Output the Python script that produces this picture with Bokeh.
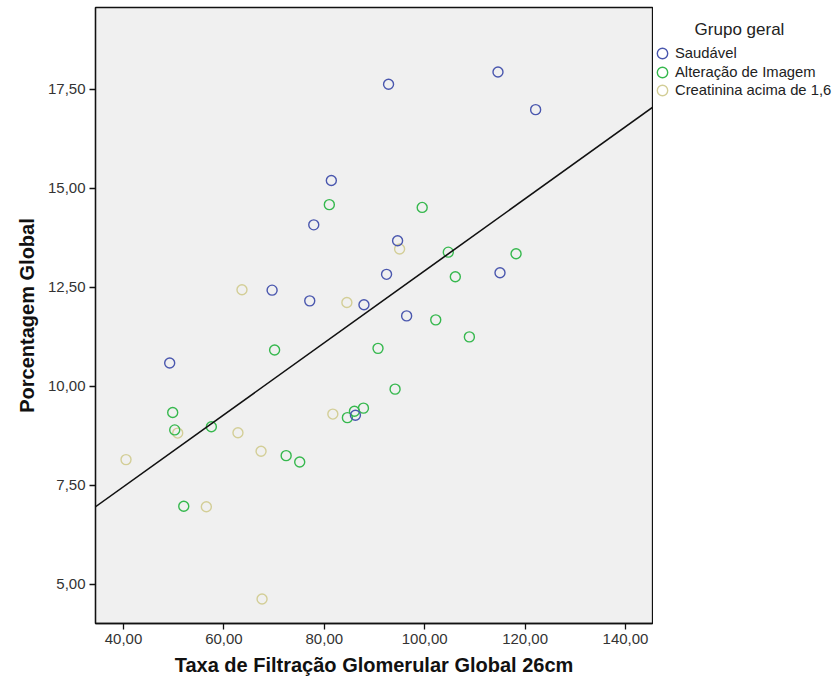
from bokeh.plotting import figure
from bokeh.layouts import row
from bokeh.models import Range1d, FixedTicker, Legend, LegendItem, Slope, Label
from bokeh.embed import file_html
from bokeh.resources import INLINE

# ---- data ----
groups = ["Saudável", "Alteração de Imagem", "Creatinina acima de 1,6"]
legend_title = "Grupo geral"
colors = ["#4A57AE", "#36B84E", "#D3CE97"]

saud_x = [92.8, 114.6, 122.1, 81.4, 77.9, 94.6, 92.4, 115.0, 77.1, 87.9, 96.4, 69.6, 49.2, 86.2]
saud_y = [17.63, 17.94, 16.99, 15.20, 14.08, 13.68, 12.83, 12.87, 12.16, 12.06, 11.78, 12.43, 10.59, 9.27]

alt_x = [81.0, 99.5, 104.7, 118.2, 106.1, 102.2, 108.9, 90.7, 94.1, 70.1, 49.8, 50.2, 57.5, 72.4, 75.1, 52.0, 87.8, 86.0, 84.6]
alt_y = [14.59, 14.52, 13.39, 13.35, 12.77, 11.68, 11.25, 10.96, 9.93, 10.92, 9.34, 8.90, 8.98, 8.25, 8.09, 6.97, 9.45, 9.37, 9.21]

crea_x = [63.6, 84.5, 95.0, 81.7, 62.8, 67.4, 40.5, 56.5, 67.6, 50.8]
crea_y = [12.44, 12.12, 13.47, 9.30, 8.83, 8.36, 8.15, 6.96, 4.63, 8.82]

# overall linear fit
fit_intercept = 3.83
fit_slope = 0.0909

x_ticks = [40, 60, 80, 100, 120, 140]
x_tick_labels = ["40,00", "60,00", "80,00", "100,00", "120,00", "140,00"]
y_ticks = [5.0, 7.5, 10.0, 12.5, 15.0, 17.5]
y_tick_labels = ["5,00", "7,50", "10,00", "12,50", "15,00", "17,50"]

FONT = "Liberation Sans"
TOP, BOTTOM = 7, 65

# ---------------- main scatter plot ----------------
p = figure(width=653, height=688, output_backend="svg", toolbar_location=None,
           x_range=Range1d(34.42, 145.38), y_range=Range1d(4.01, 19.57),
           min_border_left=95, min_border_right=1, min_border_top=TOP, min_border_bottom=BOTTOM)

p.background_fill_color = "#F0F0F0"
p.border_fill_color = "white"
p.outline_line_color = "#111111"
p.outline_line_width = 1.3
p.xgrid.visible = False
p.ygrid.visible = False

for ax in (p.xaxis[0], p.yaxis[0]):
    ax.axis_line_color = "#111111"
    ax.axis_line_width = 1.3
    ax.major_tick_line_color = "#111111"
    ax.major_tick_line_width = 1.3
    ax.major_tick_out = 6
    ax.major_tick_in = 0
    ax.minor_tick_line_color = None
    ax.major_label_text_font = FONT
    ax.major_label_text_font_size = "15px"
    ax.major_label_text_color = "#333333"
    ax.axis_label_text_font = FONT
    ax.axis_label_text_font_size = "20px"
    ax.axis_label_text_font_style = "bold"
    ax.axis_label_text_color = "#111111"
    ax.major_label_standoff = 4
    ax.axis_label_standoff = 7

p.xaxis.ticker = FixedTicker(ticks=x_ticks)
p.yaxis.ticker = FixedTicker(ticks=y_ticks)
p.xaxis.major_label_overrides = {t: l for t, l in zip(x_ticks, x_tick_labels)}
p.yaxis.major_label_overrides = {t: l for t, l in zip(y_ticks, y_tick_labels)}
p.xaxis.axis_label = "Taxa de Filtração Glomerular Global 26cm"
p.yaxis.axis_label = "Porcentagem Global"

marker_kw = dict(marker="circle", size=10, fill_color=None, line_width=1.4)
series = [(saud_x, saud_y), (alt_x, alt_y), (crea_x, crea_y)]
for (sx, sy), col in reversed(list(zip(series, colors))):
    p.scatter(sx, sy, line_color=col, **marker_kw)

p.add_layout(Slope(gradient=fit_slope, y_intercept=fit_intercept,
                   line_color="#111111", line_width=1.6))

# ---------------- legend panel (right of the chart) ----------------
# same data, but the ranges keep every point out of view: only the legend shows
q = figure(width=181, height=688, output_backend="svg", toolbar_location=None,
           x_axis_type=None, y_axis_type=None,
           x_range=Range1d(0, 1), y_range=Range1d(0, 1),
           min_border_left=0, min_border_right=0, min_border_top=TOP, min_border_bottom=BOTTOM)
q.outline_line_color = None
q.background_fill_color = "white"
q.border_fill_color = "white"
q.xgrid.visible = False
q.ygrid.visible = False

frame_bottom = 688 - BOTTOM
item_centers = [53, 71.5, 90]          # px from top of the page
for name, col, (sx, sy), yc in zip(groups, colors, series, item_centers):
    r = q.scatter(sx, sy, line_color=col, **marker_kw)
    lg = Legend(items=[LegendItem(label=name, renderers=[r])],
                location=(-4, frame_bottom - (yc - 13) - 26),
                glyph_width=26, glyph_height=26, label_height=26,
                padding=0, margin=0, spacing=0, label_standoff=-2,
                label_text_font=FONT, label_text_font_size="14.8px",
                label_text_color="#222222",
                border_line_alpha=0, background_fill_alpha=0)
    q.add_layout(lg)

q.add_layout(Label(x=86, y=frame_bottom - 29, x_units="screen", y_units="screen",
                   text=legend_title, text_align="center", text_baseline="middle",
                   text_font=FONT, text_font_size="17px", text_color="#222222"))

layout = row(p, q, spacing=0)
open("out.html", "w").write(file_html(layout, INLINE))
